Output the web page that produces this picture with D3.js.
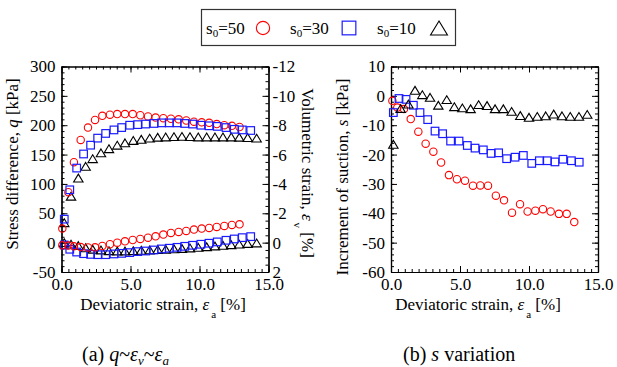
<!DOCTYPE html>
<html>
<head>
<meta charset="utf-8">
<script src="https://cdn.jsdelivr.net/npm/d3@7"></script>
<style>
    body { margin: 0; background: #fff; }
    svg text { font-family: "Times New Roman", "Liberation Serif", "DejaVu Serif", serif; fill: #000; }
</style>
</head>
<body>
<svg id="chart" width="617" height="367"></svg>
<script>
// ---- data ----
// (a) s0=50
const strainA50 = [0.06,0.5,0.9,1.39,1.92,2.43,2.96,3.51,4.04,4.6,5.16,5.71,6.27,6.82,7.38,7.93,8.49,9.04,9.6,10.16,10.7,11.25,11.8,12.35,12.9];
const q50  = [24,86,137,175,196,209,216,218,219,219,219,217,215,213,212,211,210,208,206,205,204,202,200,199,197];
const ev50 = [0.18,0.2,0.25,0.3,0.33,0.32,0.23,0.11,0,-0.09,-0.18,-0.25,-0.34,-0.43,-0.55,-0.66,-0.73,-0.8,-0.89,-0.96,-1.0,-1.07,-1.14,-1.21,-1.25];
// (a) s0=30
const strainA30 = [0.2,0.6,1.1,1.6,2.11,2.62,3.2,3.8,4.36,4.94,5.52,6.1,6.7,7.26,7.81,8.37,8.93,9.5,10.1,10.69,11.29,11.92,12.52,13.1,13.71];
const q30  = [40,90,127,151,166,178,186,192,196,200,201,202,203,204,204,204,203,202,200,199,198,196,193,192,191];
const ev30 = [0.16,0.45,0.64,0.75,0.8,0.82,0.82,0.77,0.73,0.68,0.61,0.57,0.5,0.43,0.38,0.32,0.25,0.18,0.11,0.04,-0.05,-0.16,-0.25,-0.34,-0.41];
// (a) s0=10
const strainA10 = [0.2,0.69,1.22,1.75,2.26,2.86,3.44,4.04,4.6,5.2,5.78,6.39,6.97,7.55,8.15,8.73,9.31,9.91,10.52,11.12,11.7,12.3,12.88,13.49,14.14];
const q10  = [34,79,110,130,143,153,160,166,170,174,176,178,179.5,180,180.5,181,180.5,180,180,180,180,180,179.5,179,178];
const ev10 = [0,0.1,0.2,0.35,0.45,0.5,0.55,0.57,0.57,0.55,0.52,0.5,0.47,0.45,0.42,0.4,0.36,0.32,0.28,0.23,0.18,0.14,0.1,0.06,0.02];

// (b) suction increment
const strainB50 = [0.1,0.46,0.94,1.43,1.98,2.51,3.07,3.63,4.2,4.78,5.36,5.94,6.47,7.03,7.6,8.19,8.77,9.35,9.9,10.46,11.01,11.57,12.17,12.73,13.28];
const s50 = [-1.7,-4,-4.5,-7.9,-12.2,-16.3,-19,-22.7,-27,-28.4,-28.9,-30.6,-30.5,-30.6,-34,-35.6,-39.8,-36.9,-39.4,-39.1,-38.6,-39.4,-40.2,-40.2,-43];
const strainB30 = [0.17,0.58,1.09,1.62,2.1,2.66,3.19,3.74,4.32,4.93,5.53,6.09,6.69,7.25,7.8,8.38,8.99,9.59,10.2,10.75,11.33,11.88,12.46,13.07,13.64];
const s30 = [-5.7,-0.9,-1.2,-3.2,-5.7,-8.1,-12,-12.9,-15.4,-15.4,-16.9,-17.8,-18.4,-19.6,-19.4,-21.4,-20.9,-20.3,-23,-22.1,-22.1,-22.5,-21.6,-22.1,-22.6];
const strainB10 = [0.17,0.7,1.26,1.74,2.27,2.83,3.43,4.04,4.59,5.17,5.77,6.35,6.96,7.54,8.14,8.74,9.37,10,10.6,11.21,11.79,12.39,12.99,13.62,14.22];
const s10 = [-16.5,-4.3,-2.8,1.9,0.4,-0.5,-3.2,-1.3,-3.7,-4.1,-4.4,-3,-3.3,-4.4,-4.4,-5.3,-6.7,-7.3,-7,-6.8,-6.2,-6.8,-7,-7,-6.3];

// ticks
const strainTicks = [0, 5, 10, 15];
const qTicks  = [-50, 0, 50, 100, 150, 200, 250, 300];
const evTicks = [-12, -10, -8, -6, -4, -2, 0, 2];
const sTicks  = [-60, -50, -40, -30, -20, -10, 0, 10];
const legendNames = ["50", "30", "10"];

const FONT = '"Times New Roman", "Liberation Serif", "DejaVu Serif", serif';

let svg = d3.select("#chart");
let top_ = 66.5, bottom = 272;

// scales
let xA  = d3.scaleLinear().domain([0, 15]).range([61.5, 268.5]);
let qY  = d3.scaleLinear().domain([-50, 300]).range([bottom, top_]);
let evY = d3.scaleLinear().domain([2, -12]).range([bottom, top_]);
let xB  = d3.scaleLinear().domain([0, 15]).range([391, 598]);
let sY  = d3.scaleLinear().domain([-60, 10]).range([bottom, top_]);

const colors = {"50": "#ff0000", "30": "#1a1aff", "10": "#000"};
const fmt = d => d.toFixed(1);

// draws a boxed frame with inward major and minor ticks
function drawFrame(xs, yl, yr, xTicks, ylTicks, ylMinor, yrTicks, yrMinor, yrLabels) {
    let g = svg.append("g");
    let xMinor = d3.range(0, 15.001, 0.5);
    let [x0, x1] = xs.range();

    // bottom
    g.append("g").attr("transform", "translate(0," + bottom + ")")
        .call(d3.axisBottom(xs).tickValues(xMinor).tickSize(-3).tickFormat("").tickSizeOuter(0));
    g.append("g").attr("transform", "translate(0," + bottom + ")")
        .call(d3.axisBottom(xs).tickValues(xTicks).tickSize(-6).tickPadding(6).tickFormat(fmt).tickSizeOuter(0));
    // top
    g.append("g").attr("transform", "translate(0," + top_ + ")")
        .call(d3.axisTop(xs).tickValues(xMinor).tickSize(-3).tickFormat("").tickSizeOuter(0));
    g.append("g").attr("transform", "translate(0," + top_ + ")")
        .call(d3.axisTop(xs).tickValues(xTicks).tickSize(-6).tickFormat("").tickSizeOuter(0));
    // left
    g.append("g").attr("transform", "translate(" + x0 + ",0)")
        .call(d3.axisLeft(yl).tickValues(ylMinor).tickSize(-3).tickFormat("").tickSizeOuter(0));
    g.append("g").attr("transform", "translate(" + x0 + ",0)")
        .call(d3.axisLeft(yl).tickValues(ylTicks).tickSize(-6).tickPadding(6).tickFormat(d => String(d)).tickSizeOuter(0));
    // right
    g.append("g").attr("transform", "translate(" + x1 + ",0)")
        .call(d3.axisRight(yr).tickValues(yrMinor).tickSize(-3).tickFormat("").tickSizeOuter(0));
    g.append("g").attr("transform", "translate(" + x1 + ",0)")
        .call(d3.axisRight(yr).tickValues(yrTicks).tickSize(-6).tickPadding(4)
            .tickFormat(yrLabels ? (d => String(d)) : "").tickSizeOuter(0));

    g.selectAll("g").attr("font-family", null).attr("font-size", null);
    g.selectAll(".tick text").style("font-family", FONT).style("font-size", "17px").attr("fill", "#000");
    g.selectAll(".domain").attr("stroke", "#000").attr("stroke-width", 1.2);
    g.selectAll(".tick line").attr("stroke", "#000");
    return g;
}

drawFrame(xA, qY, evY, strainTicks, qTicks, d3.range(-50, 300.1, 10), evTicks, d3.range(-12, 2.01, 0.5), true);
drawFrame(xB, sY, sY, strainTicks, sTicks, d3.range(-60, 10.1, 2), sTicks, d3.range(-60, 10.1, 2), false);

// markers
function marker(g, kind, x, y, k) {
    k = k || 1;
    if (kind == "50") {
        g.append("circle").attr("cx", x).attr("cy", y).attr("r", 3.7 * k)
            .attr("fill", "none").attr("stroke", colors[kind]).attr("stroke-width", 1.1);
    } else if (kind == "30") {
        let h = 3.8 * k;
        g.append("rect").attr("x", x - h).attr("y", y - h).attr("width", 2 * h).attr("height", 2 * h)
            .attr("fill", "none").attr("stroke", colors[kind]).attr("stroke-width", 1.2);
    } else {
        let w = 4.7 * k, h = 3.9 * k;
        g.append("path").attr("d", "M" + x + "," + (y - h) + "L" + (x + w) + "," + (y + h) + "L" + (x - w) + "," + (y + h) + "Z")
            .attr("fill", "none").attr("stroke", colors[kind]).attr("stroke-width", 1.1);
    }
}

let pts = svg.append("g");
// plot (a) volumetric strain first, then q
[["10", strainA10, ev10], ["30", strainA30, ev30], ["50", strainA50, ev50]].forEach(function(s) {
    s[1].forEach(function(d, i) { marker(pts, s[0], xA(d), evY(s[2][i])); });
});
[["10", strainA10, q10], ["50", strainA50, q50], ["30", strainA30, q30]].forEach(function(s) {
    s[1].forEach(function(d, i) { marker(pts, s[0], xA(d), qY(s[2][i])); });
});
// plot (b)
[["50", strainB50, s50], ["30", strainB30, s30], ["10", strainB10, s10]].forEach(function(s) {
    s[1].forEach(function(d, i) { marker(pts, s[0], xB(d), sY(s[2][i])); });
});

// axis titles
function xTitle(cx) {
    let t = svg.append("text").attr("x", cx).attr("y", 310).attr("text-anchor", "middle").style("font-size", "17px");
    t.append("tspan").text("Deviatoric strain, ");
    t.append("tspan").style("font-style", "italic").text("ε");
    t.append("tspan").attr("dy", 8).attr("dx", 2).style("font-size", "11px").text("a");
    t.append("tspan").attr("dy", -8).text(" [%]");
}
xTitle(163);
xTitle(478);

let t1 = svg.append("text").attr("transform", "translate(18,164) rotate(-90)")
    .attr("text-anchor", "middle").style("font-size", "17px");
t1.append("tspan").text("Stress difference, ");
t1.append("tspan").style("font-style", "italic").text("q");
t1.append("tspan").text(" [kPa]");

let t2 = svg.append("text").attr("transform", "translate(302,173) rotate(90)")
    .attr("text-anchor", "middle").style("font-size", "17px");
t2.append("tspan").text("Volumetric strain, ");
t2.append("tspan").style("font-style", "italic").text("ε");
t2.append("tspan").attr("dy", 8).attr("dx", 2).style("font-size", "11px").text("v");
t2.append("tspan").attr("dy", -8).text(" [%]");

let t3 = svg.append("text").attr("transform", "translate(348,177) rotate(-90)")
    .attr("text-anchor", "middle").style("font-size", "17px");
t3.append("tspan").text("Increment of suction, ");
t3.append("tspan").style("font-style", "italic").text("s");
t3.append("tspan").text(" [kPa]");

// captions
let c1 = svg.append("text").attr("x", 82).attr("y", 361).style("font-size", "20px");
c1.append("tspan").text("(a) ");
c1.append("tspan").style("font-style", "italic").text("q");
c1.append("tspan").text("~");
c1.append("tspan").style("font-style", "italic").text("ε");
c1.append("tspan").attr("dy", 4).style("font-size", "13px").style("font-style", "italic").text("v");
c1.append("tspan").attr("dy", -4).text("~");
c1.append("tspan").style("font-style", "italic").text("ε");
c1.append("tspan").attr("dy", 4).style("font-size", "13px").style("font-style", "italic").text("a");

let c2 = svg.append("text").attr("x", 403).attr("y", 361).style("font-size", "20px");
c2.append("tspan").text("(b) ");
c2.append("tspan").style("font-style", "italic").text("s");
c2.append("tspan").text(" variation");

// legend
let lg = svg.append("g");
lg.append("rect").attr("x", 201.5).attr("y", 9.5).attr("width", 254).attr("height", 36)
    .attr("fill", "#fff").attr("stroke", "#333").attr("stroke-width", 1.2);
let legX = [206, 290, 377], legM = [263, 349, 439];
legendNames.forEach(function(n, i) {
    let t = lg.append("text").attr("x", legX[i]).attr("y", 34).style("font-size", "17px");
    t.append("tspan").text("s");
    t.append("tspan").attr("dy", 3).style("font-size", "11px").text("0");
    t.append("tspan").attr("dy", -3).text("=" + n);
    marker(lg, n, legM[i], 28, 1.8);
});
</script>
</body>
</html>
